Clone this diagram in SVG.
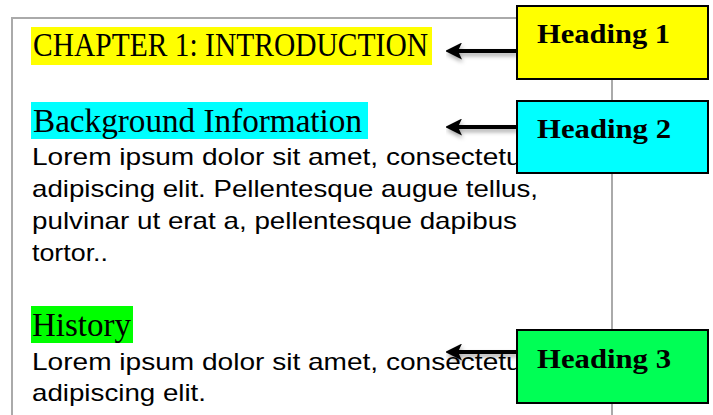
<svg xmlns="http://www.w3.org/2000/svg" width="713" height="415" viewBox="0 0 713 415">
<style>
.hd{font-family:"Liberation Serif","DejaVu Serif",serif;font-size:33px;fill:#000}
.bd{font-family:"Liberation Sans",Arial,sans-serif;font-size:24px;fill:#000}
.lb{font-family:"Liberation Serif","DejaVu Serif",serif;font-size:28px;font-weight:bold;fill:#000}
.box{stroke:#000;stroke-width:2}
.con{stroke:#000;stroke-width:4;fill:none}
</style>
<defs>
<marker id="ah" viewBox="0 0 17 17" refX="4" refY="8.5" markerUnits="userSpaceOnUse" markerWidth="17" markerHeight="17" orient="auto">
<path d="M0,0 L17,8.5 L0,17 L4,8.5 z" fill="#000"/>
</marker>
<filter id="sh" x="-20%" y="-50%" width="140%" height="250%">
<feDropShadow dx="1" dy="3" stdDeviation="2" flood-color="#000" flood-opacity="0.35"/>
</filter>
</defs>
<rect width="713" height="415" fill="#fff"/>
<g id="page">
<path d="M12,415 V18 H612 V415" fill="none" stroke="#aaa" stroke-width="2"/>
<rect x="31" y="27" width="401" height="38" fill="#ffff00"/>
<text class="hd" x="33" y="56" textLength="395" lengthAdjust="spacingAndGlyphs">CHAPTER 1: INTRODUCTION</text>
<rect x="31" y="102" width="337" height="37" fill="#00ffff"/>
<text class="hd" x="33" y="131.5" textLength="329" lengthAdjust="spacingAndGlyphs">Background Information</text>
<text class="bd" x="32" y="165" textLength="499" lengthAdjust="spacingAndGlyphs">Lorem ipsum dolor sit amet, consectetur</text>
<text class="bd" x="32" y="197" textLength="506" lengthAdjust="spacingAndGlyphs">adipiscing elit. Pellentesque augue tellus,</text>
<text class="bd" x="32" y="229" textLength="485" lengthAdjust="spacingAndGlyphs">pulvinar ut erat a, pellentesque dapibus</text>
<text class="bd" x="32" y="261" textLength="76" lengthAdjust="spacingAndGlyphs">tortor..</text>
<rect x="31" y="306" width="102" height="37" fill="#00ff00"/>
<text class="hd" x="32" y="336" textLength="99" lengthAdjust="spacingAndGlyphs">History</text>
<text class="bd" x="32" y="370" textLength="499" lengthAdjust="spacingAndGlyphs">Lorem ipsum dolor sit amet, consectetur</text>
<text class="bd" x="32" y="401" textLength="174" lengthAdjust="spacingAndGlyphs">adipiscing elit.</text>
</g>
<g id="connectors" filter="url(#sh)">
<line class="con" x1="517" y1="51" x2="458" y2="51" marker-end="url(#ah)"/>
<line class="con" x1="517" y1="127" x2="458" y2="127" marker-end="url(#ah)"/>
<line class="con" x1="517" y1="352" x2="458" y2="352" marker-end="url(#ah)"/>
</g>
<g id="heading1">
<rect class="box" x="517" y="6" width="191" height="73" fill="#ffff00"/>
<text class="lb" x="537" y="43" textLength="133" lengthAdjust="spacingAndGlyphs">Heading 1</text>
</g>
<g id="heading2">
<rect class="box" x="517" y="101" width="191" height="72" fill="#00ffff"/>
<text class="lb" x="537" y="138" textLength="134" lengthAdjust="spacingAndGlyphs">Heading 2</text>
</g>
<g id="heading3">
<rect class="box" x="517" y="330" width="191" height="73" fill="#00ff55"/>
<text class="lb" x="537" y="368" textLength="134" lengthAdjust="spacingAndGlyphs">Heading 3</text>
</g>
</svg>
